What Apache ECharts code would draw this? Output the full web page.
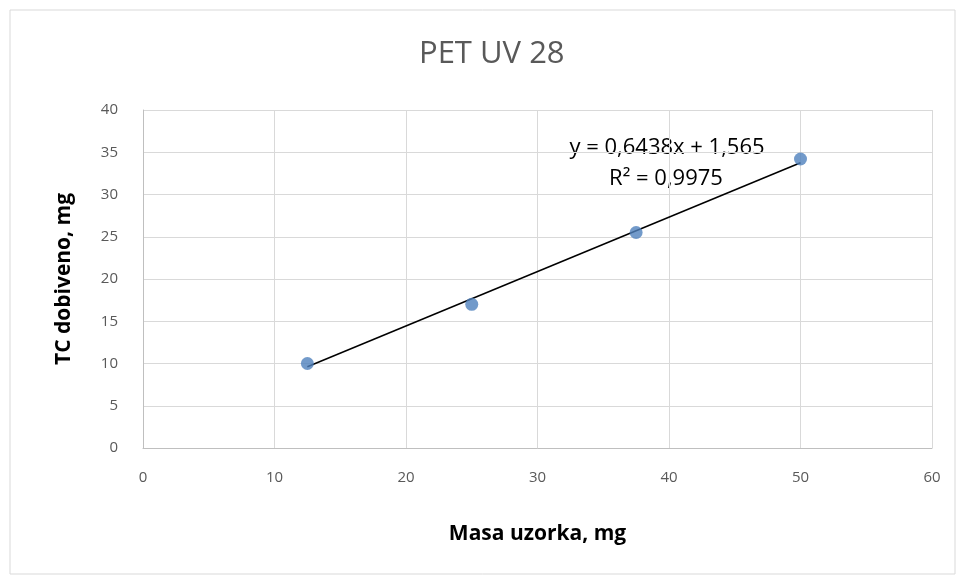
<!DOCTYPE html>
<html>
<head>
<meta charset="utf-8">
<script src="https://cdn.jsdelivr.net/npm/echarts@6/dist/echarts.min.js"></script>
<style>
  html, body { margin: 0; padding: 0; background: #fff; }
  #chart { width: 963px; height: 582px; }
</style>
</head>
<body>
<div id="chart"></div>
<script>
// measured points
const masa = [12.5, 25, 37.5, 50];
const tcDobiveno = [10, 17, 25.5, 34.2];

// linear trendline (Excel)
const slope = 0.6438;
const intercept = 1.565;
const trendX = [12.5, 50];

const eqText = "y = 0,6438x + 1,565";
const r2Text = "R\u00b2 = 0,9975";

const chart = echarts.init(document.getElementById("chart"));

const grey = "#595959";
const font = "'Open Sans', 'Liberation Sans', sans-serif";

chart.setOption({
  animation: false,
  title: {
    text: "PET UV 28",
    left: 414,
    top: 34,
    textStyle: { color: grey, fontSize: 31, fontWeight: "normal", fontFamily: font }
  },
  grid: { left: 143, right: 31, top: 110, bottom: 134 },
  xAxis: {
    type: "value",
    min: 0, max: 60, interval: 10,
    name: "Masa uzorka, mg",
    nameLocation: "middle",
    nameGap: 76,
    nameTextStyle: { color: "#000", fontSize: 21, fontWeight: "bold", fontFamily: font },
    axisLine: { show: true, lineStyle: { color: "#bfbfbf" } },
    axisTick: { show: false },
    axisLabel: { color: grey, fontSize: 15, margin: 22, fontFamily: font },
    splitLine: { show: true, lineStyle: { color: "#d9d9d9" } }
  },
  yAxis: {
    type: "value",
    min: 0, max: 40, interval: 5,
    name: "TC dobiveno, mg",
    nameLocation: "middle",
    nameGap: 68,
    nameTextStyle: { color: "#000", fontSize: 21, fontWeight: "bold", fontFamily: font },
    axisLine: { show: true, lineStyle: { color: "#bfbfbf" } },
    axisTick: { show: false },
    axisLabel: { color: grey, fontSize: 15, margin: 25, fontFamily: font },
    splitLine: { show: true, lineStyle: { color: "#d9d9d9" } }
  },
  graphic: [
    {
      type: "rect",
      shape: { x: 10, y: 10, width: 945, height: 564 },
      style: { fill: "none", stroke: "#d9d9d9", lineWidth: 1 },
      silent: true
    },
    {
      type: "text",
      x: 667, y: 148,
      style: { text: eqText, fill: "#000", font: "22px " + font, align: "center", verticalAlign: "middle" }
    },
    {
      type: "text",
      x: 666, y: 179,
      style: { text: r2Text, fill: "#000", font: "22px " + font, align: "center", verticalAlign: "middle" }
    }
  ],
  series: [
    {
      name: "Trend",
      type: "line",
      data: trendX.map(x => [x, slope * x + intercept]),
      showSymbol: false,
      lineStyle: { color: "#000", width: 1.5 },
      z: 3
    },
    {
      name: "TC",
      type: "scatter",
      data: masa.map((x, i) => [x, tcDobiveno[i]]),
      symbolSize: 13,
      itemStyle: { color: "#4f81bd" },
      z: 4
    }
  ]
});
</script>
</body>
</html>
